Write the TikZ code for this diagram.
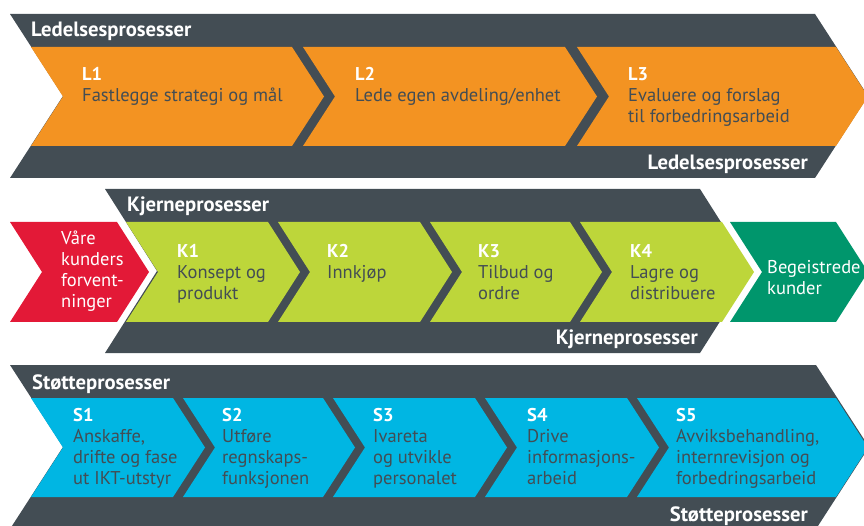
\documentclass[tikz,border=0pt]{standalone}
\usepackage{fontspec}
\setmainfont{PT Sans}
\definecolor{band}{HTML}{434D54}
\definecolor{lorange}{HTML}{F39322}
\definecolor{klime}{HTML}{BDD63A}
\definecolor{kred}{HTML}{E31937}
\definecolor{kteal}{HTML}{00966C}
\definecolor{sblue}{HTML}{00B6E3}
\definecolor{txt}{HTML}{434D54}
% colour, x left, y top, x right, y bottom, depth
\newcommand{\chevshape}[6]{%
  \fill[#1] (#2,#3) -- (#4,#3) -- ({#4+#6},{(#3+#5)/2}) -- (#4,#5) -- (#2,#5) -- ({#2+#6},{(#3+#5)/2}) -- cycle;}
\newcommand{\hd}[1]{\textcolor{white}{\bfseries #1}}
\tikzset{
  segtext/.style={anchor=north west, inner sep=0pt, align=left, text=txt, font=\fontsize{18.5}{21}\selectfont},
  whitetext/.style={anchor=north west, inner sep=0pt, align=left, text=white, font=\fontsize{18.5}{21}\selectfont},
  bandlbl/.style={inner sep=0pt, text=white, font=\bfseries\fontsize{20.7}{24}\selectfont},
}
\begin{document}
\begin{tikzpicture}[x=1pt,y=-1pt]
\useasboundingbox (0,0) rectangle (864,526);
% ---------- Ledelsesprosesser ----------
\chevshape{band}{10}{14}{815}{178}{53}
\chevshape{lorange}{31}{47}{292}{146}{32}
\chevshape{lorange}{303}{47}{565}{146}{32}
\chevshape{lorange}{577}{47}{836}{146}{32}
\node[bandlbl, anchor=base west] (ltop) at (31,37) {Ledelsesprosesser};
\node[bandlbl, anchor=base east] (lbot) at (808,170) {Ledelsesprosesser};
\node[segtext] (l1) at (82,67) {\hd{L1}\\Fastlegge strategi og mål};
\node[segtext] (l2) at (355,67) {\hd{L2}\\Lede egen avdeling/enhet};
\node[segtext] (l3) at (628,67) {\hd{L3}\\Evaluere og forslag\\til forbedringsarbeid};
% ---------- Kjerneprosesser ----------
\chevshape{band}{105}{189}{700}{353}{52}
\chevshape{kred}{10}{222}{117}{322}{32}
\chevshape{klime}{126}{222}{268}{322}{32}
\chevshape{klime}{278}{222}{420}{322}{32}
\chevshape{klime}{430}{222}{570}{322}{32}
\chevshape{klime}{580}{222}{722}{322}{32}
\chevshape{kteal}{730}{222}{836}{322}{32}
\node[bandlbl, anchor=base west] (ktop) at (127,212) {Kjerneprosesser};
\node[bandlbl, anchor=base east] (kbot) at (698,344) {Kjerneprosesser};
\node[whitetext] (kin) at (61,231) {Våre\\kunders\\forvent-\\ninger};
\node[segtext] (k1) at (177,244) {\hd{K1}\\Konsept og\\produkt};
\node[segtext] (k2) at (327,244) {\hd{K2}\\Innkjøp};
\node[segtext] (k3) at (478,244) {\hd{K3}\\Tilbud og\\ordre};
\node[segtext] (k4) at (630,244) {\hd{K4}\\Lagre og\\distribuere};
\node[whitetext] (kout) at (767,260) {Begeistrede\\kunder};
% ---------- Støtteprosesser ----------
\chevshape{band}{10}{365}{816}{529}{53}
\chevshape{sblue}{31}{398}{173}{497}{32}
\chevshape{sblue}{183}{398}{323}{497}{32}
\chevshape{sblue}{333}{398}{475}{497}{32}
\chevshape{sblue}{485}{398}{627}{497}{32}
\chevshape{sblue}{637}{398}{836}{497}{32}
\node[bandlbl, anchor=base west] (stop) at (32,389) {Støtteprosesser};
\node[bandlbl, anchor=base east] (sbot) at (808,521) {Støtteprosesser};
\node[segtext] (s1) at (73,408) {\hd{S1}\\Anskaffe,\\drifte og fase\\ut IKT-utstyr};
\node[segtext] (s2) at (222,408) {\hd{S2}\\Utføre\\regnskaps-\\funksjonen};
\node[segtext] (s3) at (373,408) {\hd{S3}\\Ivareta\\og utvikle\\personalet};
\node[segtext] (s4) at (527,408) {\hd{S4}\\Drive\\informasjons-\\arbeid};
\node[segtext] (s5) at (676,408) {\hd{S5}\\Avviksbehandling,\\internrevisjon og\\forbedringsarbeid};
\end{tikzpicture}
\end{document}
